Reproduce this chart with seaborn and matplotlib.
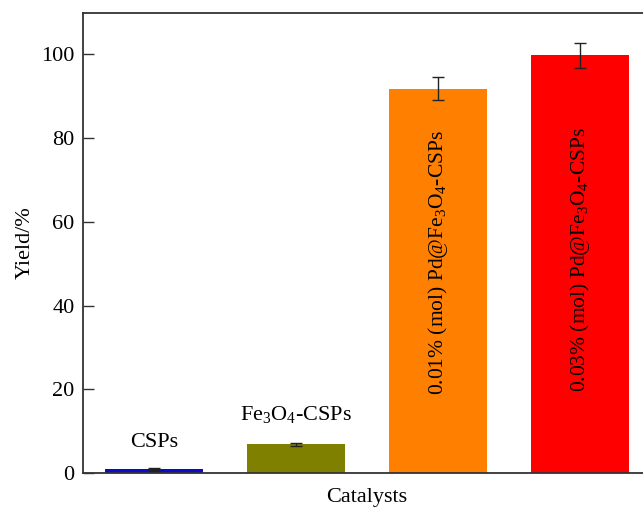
import matplotlib
matplotlib.use("Agg")
import matplotlib.pyplot as plt
import seaborn as sns
import pandas as pd

# Catalyst yields with standard deviations
catalysts = ["CSPs", "Fe3O4-CSPs", "0.01% Pd@Fe3O4-CSPs", "0.03% Pd@Fe3O4-CSPs"]
yields = [0.9, 6.9, 91.8, 99.8]
errors = [0.2, 0.35, 2.8, 3.0]
bar_colors = ["#0A0ACC", "#808000", "#FF8000", "#FF0000"]
bar_labels = [
    "CSPs",
    r"Fe$_3$O$_4$-CSPs",
    r"0.01% (mol) Pd@Fe$_3$O$_4$-CSPs",
    r"0.03% (mol) Pd@Fe$_3$O$_4$-CSPs",
]
y_ticks = [0, 20, 40, 60, 80, 100]

sns.set_theme(style="white")
plt.rcParams["font.family"] = ["Liberation Serif", "DejaVu Serif"]
plt.rcParams["mathtext.fontset"] = "custom"
plt.rcParams["mathtext.rm"] = "Liberation Serif"
plt.rcParams["mathtext.it"] = "Liberation Serif:italic"
plt.rcParams["text.color"] = "black"
plt.rcParams["axes.labelcolor"] = "black"

df = pd.DataFrame({"catalyst": catalysts, "yield": yields, "err": errors})

fig = plt.figure(figsize=(6.43, 5.08), dpi=100)
ax = fig.add_axes([83 / 643, 35 / 508, 568 / 643, 460.5 / 508])

sns.barplot(data=df, x="catalyst", y="yield", hue="catalyst",
            palette=bar_colors, width=0.69, errorbar=None, legend=False,
            saturation=1, ax=ax, edgecolor="none")
ax.errorbar(range(len(catalysts)), yields, yerr=errors, fmt="none",
            ecolor="#222222", elinewidth=1.0, capsize=4.3, capthick=1.0)

# Labels above the two short bars
ax.text(0, 7.2, bar_labels[0], ha="center", va="center", fontsize=16)
ax.text(1, 14.0, bar_labels[1], ha="center", va="center", fontsize=16)
# Rotated labels inside the two tall bars
ax.text(2, 50.3, bar_labels[2], ha="center", va="center", rotation=90,
        fontsize=15.5)
ax.text(3, 51.0, bar_labels[3], ha="center", va="center", rotation=90,
        fontsize=15.5)

ax.set_xlim(-0.5, 3.5)
ax.set_ylim(0, 110)
ax.set_yticks(y_ticks)
ax.set_xticks([])
ax.set_xlabel("Catalysts", fontsize=16, labelpad=10.5)
ax.set_ylabel("Yield/%", fontsize=16, labelpad=5)
ax.tick_params(axis="y", direction="in", length=8, width=1.0,
               labelsize=16, colors="#333333", labelcolor="black", pad=6,
               left=True)
for side in ["left", "bottom", "top"]:
    ax.spines[side].set_color("#333333")
    ax.spines[side].set_linewidth(1.3)
ax.spines["right"].set_visible(False)

fig.savefig("out.png", dpi=100)
